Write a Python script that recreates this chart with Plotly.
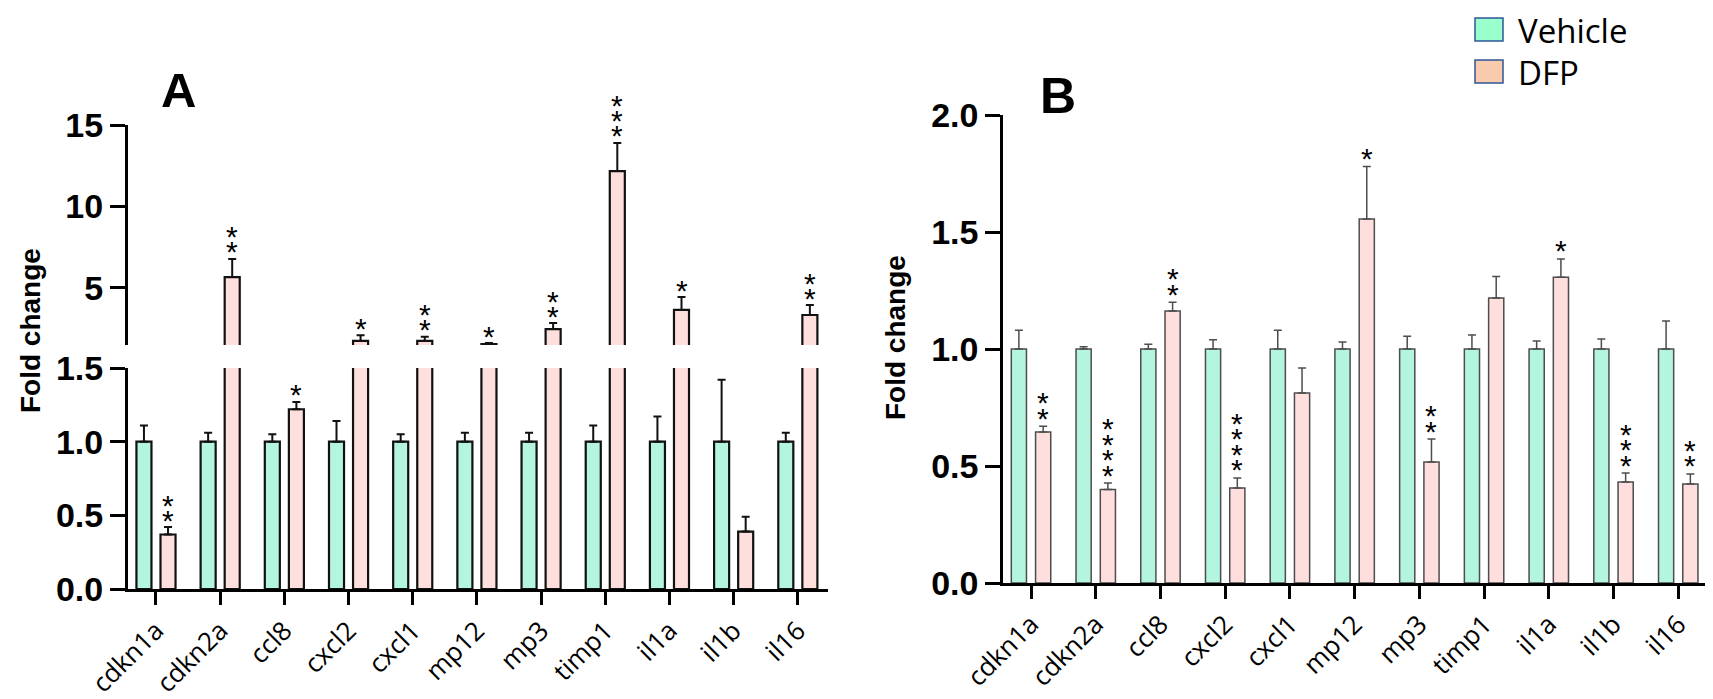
import plotly.graph_objects as go

genes = ['cdkn1a', 'cdkn2a', 'ccl8', 'cxcl2', 'cxcl1', 'mp12', 'mp3', 'timp1', 'il1a', 'il1b', 'il16']

# panel A
a_vehicle = [1.0, 1.0, 1.0, 1.0, 1.0, 1.0, 1.0, 1.0, 1.0, 1.0, 1.0]
a_vehicle_err = [0.11, 0.06, 0.05, 0.14, 0.05, 0.06, 0.06, 0.11, 0.17, 0.42, 0.06]
a_dfp = [0.37, 5.67, 1.22, 1.75, 1.75, 1.55, 2.48, 12.17, 3.65, 0.39, 3.34]
a_dfp_err = [0.05, 1.11, 0.05, 0.35, 0.25, 0.07, 0.37, 1.73, 0.79, 0.10, 0.61]
a_stars = [2, 2, 1, 1, 2, 1, 2, 3, 1, 0, 2]

# panel B
b_vehicle = [1.0, 1.0, 1.0, 1.0, 1.0, 1.0, 1.0, 1.0, 1.0, 1.0, 1.0]
b_vehicle_err = [0.08, 0.01, 0.02, 0.04, 0.08, 0.03, 0.055, 0.06, 0.034, 0.043, 0.12]
b_dfp = [0.645, 0.40, 1.162, 0.406, 0.812, 1.556, 0.517, 1.218, 1.307, 0.432, 0.423]
b_dfp_err = [0.025, 0.027, 0.038, 0.043, 0.107, 0.224, 0.098, 0.092, 0.078, 0.038, 0.043]
b_stars = [2, 4, 2, 4, 0, 1, 2, 0, 1, 3, 2]

GREEN = '#B3F5DE'
PINK = '#FFDEDE'
W, H = 1713, 699


def px(x):
    return x / W


def py(y):
    return 1 - y / H


fig = go.Figure()


def add_bars(xa, ya, veh, veh_err, dfp, dfp_err, lw, lc, ew):
    zeros = [0] * len(genes)
    fig.add_trace(go.Bar(x=genes, y=veh, xaxis=xa, yaxis=ya, name='Vehicle',
                         marker=dict(color=GREEN, line=dict(color=lc, width=lw)),
                         error_y=dict(type='data', array=veh_err, arrayminus=zeros, symmetric=False,
                                      color=lc, thickness=ew, width=4)))
    fig.add_trace(go.Bar(x=genes, y=dfp, xaxis=xa, yaxis=ya, name='DFP',
                         marker=dict(color=PINK, line=dict(color=lc, width=lw)),
                         error_y=dict(type='data', array=dfp_err, arrayminus=zeros, symmetric=False,
                                      color=lc, thickness=ew, width=4)))


add_bars('x', 'y', a_vehicle, a_vehicle_err, a_dfp, a_dfp_err, 2.2, '#111111', 2)
add_bars('x2', 'y2', a_vehicle, a_vehicle_err, a_dfp, a_dfp_err, 2.2, '#111111', 2)
add_bars('x3', 'y3', b_vehicle, b_vehicle_err, b_dfp, b_dfp_err, 1.5, '#4d4d4d', 1.5)

tick_font = dict(family='Arial', size=34, color='black', weight='bold')
cat_font = dict(family='Open Sans', size=26, color='black')

xa_dom = [px(120), px(820)]
xb_dom = [px(995), px(1700)]

fig.update_layout(
    width=W, height=H,
    margin=dict(l=0, r=0, t=0, b=0),
    paper_bgcolor='white', plot_bgcolor='white',
    showlegend=False,
    barmode='group', bargap=0.25, bargroupgap=0.375,
    xaxis=dict(domain=xa_dom, anchor='y', range=[-0.436, 10.47], showline=True, linewidth=3,
               linecolor='black', ticks='outside', ticklen=13, tickwidth=3, tickcolor='black',
               tickangle=-45, tickfont=cat_font, showgrid=False, automargin=False),
    yaxis=dict(domain=[py(581), py(360)], anchor='x', range=[0, 1.5], showline=True, linewidth=3,
               linecolor='black', ticks='outside', ticklen=15, tickwidth=3, tickcolor='black',
               tickvals=[0, 0.5, 1.0, 1.5], ticktext=['0.0', '0.5', '1.0', '1.5'],
               tickfont=tick_font, showgrid=False, zeroline=False, automargin=False),
    xaxis2=dict(domain=xa_dom, anchor='y2', matches='x', visible=False, automargin=False),
    yaxis2=dict(domain=[py(337), py(117)], anchor='x2', range=[1.5, 15], showline=True, linewidth=3,
                linecolor='black', ticks='outside', ticklen=15, tickwidth=3, tickcolor='black',
                tickvals=[5, 10, 15], tickfont=tick_font, showgrid=False, zeroline=False,
                automargin=False),
    xaxis3=dict(domain=xb_dom, anchor='y3', range=[-0.433, 10.46], showline=True, linewidth=2.5,
                linecolor='black', ticks='outside', ticklen=13, tickwidth=2.5, tickcolor='black',
                tickangle=-45, tickfont=cat_font, showgrid=False, automargin=False),
    yaxis3=dict(domain=[py(575), py(107)], anchor='x3', range=[0, 2.0], showline=True, linewidth=2.5,
                linecolor='black', ticks='outside', ticklen=15, tickwidth=2.5, tickcolor='black',
                tickvals=[0, 0.5, 1.0, 1.5, 2.0], ticktext=['0.0', '0.5', '1.0', '1.5', '2.0'],
                tickfont=tick_font, showgrid=False, zeroline=False, automargin=False),
)

# significance stars above the DFP bars
offset = 0.1875
star_font = dict(family='Arial', size=30, color='black')
for i, n in enumerate(a_stars):
    top = a_dfp[i] + a_dfp_err[i]
    yref = 'y2' if top > 1.5 else 'y'
    xref = 'x2' if top > 1.5 else 'x'
    for k in range(n):
        fig.add_annotation(x=i + offset, y=top, xref=xref, yref=yref, text='*', showarrow=False,
                           xanchor='center', yanchor='middle', yshift=7 + 15 * k, font=star_font)
for i, n in enumerate(b_stars):
    top = b_dfp[i] + b_dfp_err[i]
    for k in range(n):
        fig.add_annotation(x=i + offset, y=top, xref='x3', yref='y3', text='*', showarrow=False,
                           xanchor='center', yanchor='middle', yshift=8 + 15.5 * k, font=star_font)

# panel letters and axis titles
fig.add_annotation(x=px(170), y=py(82), xref='paper', yref='paper', text='<b>A</b>', showarrow=False,
                   xanchor='center', yanchor='middle', font=dict(family='Arial', size=49, color='black'))
fig.add_annotation(x=px(1050), y=py(88), xref='paper', yref='paper', text='<b>B</b>', showarrow=False,
                   xanchor='center', yanchor='middle', font=dict(family='Arial', size=50, color='black'))
fig.add_annotation(x=px(22), y=py(323), xref='paper', yref='paper', text='<b>Fold change</b>',
                   textangle=-90, showarrow=False, xanchor='center', yanchor='middle',
                   font=dict(family='Arial', size=28, color='black'))
fig.add_annotation(x=px(887), y=py(329), xref='paper', yref='paper', text='<b>Fold change</b>',
                   textangle=-90, showarrow=False, xanchor='center', yanchor='middle',
                   font=dict(family='Arial', size=28, color='black'))

# legend
legend_items = [('Vehicle', '#99FFCC', 10), ('DFP', '#F8CBAD', 52)]
for label, color, top in legend_items:
    fig.add_shape(type='rect', xref='paper', yref='paper', x0=px(1467), x1=px(1495),
                  y0=py(top + 23), y1=py(top), fillcolor=color, line=dict(color='#2F5597', width=1.5))
    fig.add_annotation(x=px(1508), y=py(top + 12), xref='paper', yref='paper', text=label,
                       xanchor='left', yanchor='middle', showarrow=False,
                       font=dict(family='Open Sans', size=33, color='black'))

fig.write_html("out.html")
